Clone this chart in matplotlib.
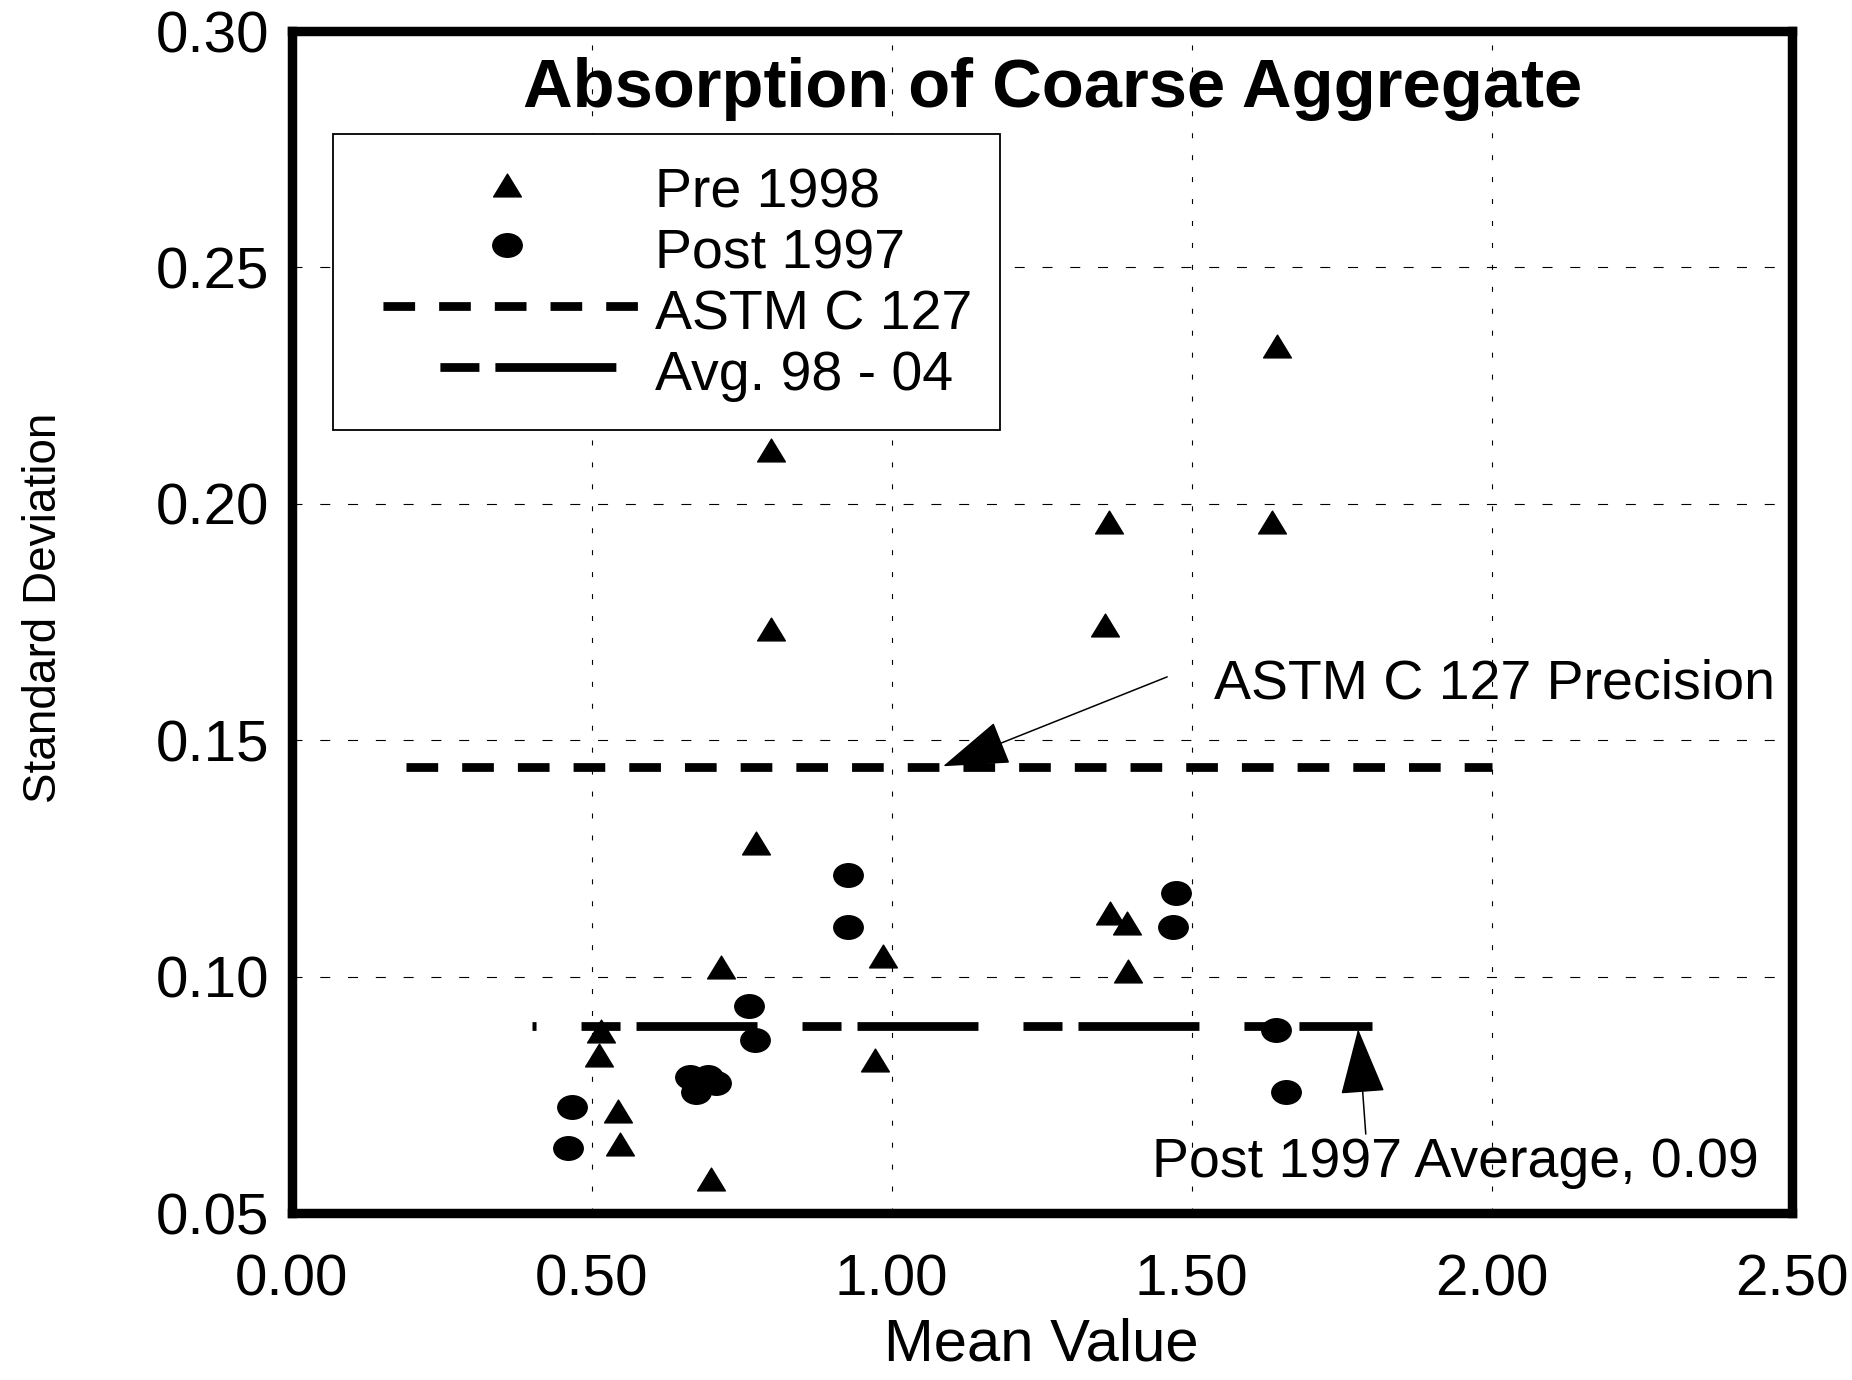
import matplotlib
matplotlib.use('Agg')
import matplotlib.pyplot as plt
from matplotlib.path import Path
from matplotlib.lines import Line2D
from matplotlib.patches import FancyArrowPatch
import numpy as np

# ---------------- data ----------------
pre_x = [1.642, 0.799, 1.362, 1.634, 0.799, 1.356, 0.774, 0.715, 0.986,
         1.364, 1.392, 1.394, 0.516, 0.512, 0.543, 0.547, 0.972, 0.699]
pre_y = [0.2334, 0.2114, 0.1962, 0.1962, 0.1735, 0.1743, 0.1283, 0.1021, 0.1044,
         0.1134, 0.1114, 0.1011, 0.0884, 0.0834, 0.0715, 0.0645, 0.0824, 0.0572]

post_x = [0.927, 0.927, 1.474, 1.469, 0.762, 0.772, 0.663, 0.673, 0.693,
          0.707, 0.467, 0.461, 1.640, 1.657]
post_y = [0.1216, 0.1106, 0.1176, 0.1106, 0.0937, 0.0867, 0.0787, 0.0757, 0.0787,
          0.0774, 0.0725, 0.0637, 0.0887, 0.0757]

astm_x = [0.19, 2.00]
astm_y = [0.1443, 0.1443]
avg_x = [0.40, 1.80]
avg_y = [0.0895, 0.0895]

x_ticks = [0.0, 0.5, 1.0, 1.5, 2.0, 2.5]
x_tick_labels = ['0.00', '0.50', '1.00', '1.50', '2.00', '2.50']
y_ticks = [0.05, 0.10, 0.15, 0.20, 0.25, 0.30]
y_tick_labels = ['0.05', '0.10', '0.15', '0.20', '0.25', '0.30']

title = 'Absorption of Coarse Aggregate'
x_label = 'Mean Value'
y_label = 'Standard Deviation'
legend_labels = ['Pre 1998', 'Post 1997', 'ASTM C 127', 'Avg. 98 - 04']
astm_note = 'ASTM C 127 Precision'
avg_note = 'Post 1997 Average, 0.09'

# ---------------- style ----------------
plt.rcParams['font.family'] = ['Liberation Sans', 'DejaVu Sans']
plt.rcParams['lines.scale_dashes'] = False

tri_marker = Path([(0, 0.82), (-1, -0.82), (1, -0.82), (0, 0.82)],
                  [Path.MOVETO, Path.LINETO, Path.LINETO, Path.CLOSEPOLY])
circ = Path.unit_circle()
ell_marker = Path(circ.vertices * np.array([1.0, 0.8]), circ.codes)

astm_ls = (0, (22.8, 17.3))
avg_ls = (84.2, (87.1, 32.4, 28.1, 11.5))
astm_leg_ls = (24.3, (22.8, 17.3))
avg_leg_ls = (153.4, (28.1, 11.5, 87.1, 83.5))

fig = plt.figure(figsize=(18.52, 13.8), dpi=100)
ax = fig.add_axes([0.1575, 0.121, 0.81, 0.8565])
ax.set_xlim(0, 2.5)
ax.set_ylim(0.05, 0.30)
ax.set_xticks(x_ticks)
ax.set_xticklabels(x_tick_labels)
ax.set_yticks(y_ticks)
ax.set_yticklabels(y_tick_labels)
ax.tick_params(axis='both', length=0, labelsize=42)
ax.tick_params(axis='x', pad=29)
ax.tick_params(axis='y', pad=16)
for s in ax.spines.values():
    s.set_linewidth(6.8)
    s.set_color('black')
    s.set_zorder(5)

ax.set_axisbelow(True)
ax.xaxis.grid(True, color='black', linewidth=0.8, linestyle=(0, (3.6, 12.2)))
ax.yaxis.grid(True, color='black', linewidth=0.8, linestyle=(0, (7.2, 12.8)))

ax.plot(astm_x, astm_y, color='black', linewidth=6.3, linestyle=astm_ls,
        dash_capstyle='butt', zorder=2)
ax.plot(avg_x, avg_y, color='black', linewidth=6.3, linestyle=avg_ls,
        dash_capstyle='butt', zorder=2)

ax.plot(pre_x, pre_y, linestyle='none', marker=tri_marker, markersize=20,
        color='black', zorder=3)
ax.plot(post_x, post_y, linestyle='none', marker=ell_marker, markersize=21.2,
        color='black', zorder=3)

# title
ax.text(0.507, 0.951, title, transform=ax.transAxes, ha='center', va='center',
        fontsize=49.5, fontweight='bold')

# axis labels
ax.set_xlabel(x_label, fontsize=43, va='center')
ax.xaxis.set_label_coords(0.5, -0.112)
ax.set_ylabel(y_label, fontsize=33, va='center')
ax.yaxis.set_label_coords(-0.165, 0.512)

# annotations
arr_kw = dict(arrowstyle='-|>,head_length=4.3,head_width=1.45', mutation_scale=10,
              color='black', linewidth=1.1, shrinkA=0, shrinkB=0, zorder=4)
ax.add_patch(FancyArrowPatch((1.459, 0.1634), (1.0855, 0.1445), **arr_kw))
ax.add_patch(FancyArrowPatch((1.790, 0.0667), (1.7772, 0.0889), **arr_kw))
ax.text(1.537, 0.1617, astm_note, fontsize=40, ha='left', va='center')
ax.text(1.434, 0.0606, avg_note, fontsize=40, ha='left', va='center')

# legend
handles = [
    Line2D([], [], linestyle='none', marker=tri_marker, markersize=20, color='black'),
    Line2D([], [], linestyle='none', marker=ell_marker, markersize=21.2, color='black'),
    Line2D([], [], color='black', linewidth=6.3, linestyle=astm_leg_ls, dash_capstyle='butt'),
    Line2D([], [], color='black', linewidth=6.3, linestyle=avg_leg_ls, dash_capstyle='butt'),
]
leg = ax.legend(handles, legend_labels, loc='upper left',
                bbox_to_anchor=(333 / 1852, 1 - 134 / 1380),
                bbox_transform=fig.transFigure, borderaxespad=0,
                fontsize=40, handlelength=5.25, handletextpad=0.04,
                handleheight=1.1, borderpad=0.5, labelspacing=0.06, numpoints=1,
                fancybox=False, framealpha=1, edgecolor='black')
leg.get_frame().set_linewidth(1.3)
leg.set_zorder(6)

fig.savefig('out.png', dpi=100)
